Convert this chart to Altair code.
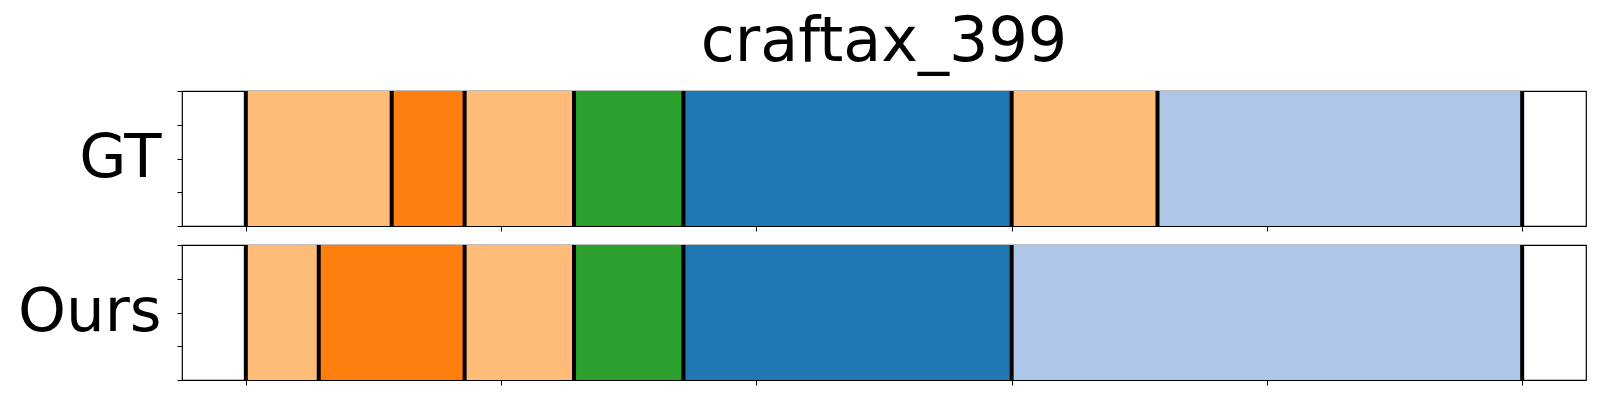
import altair as alt
import numpy as np
import pandas as pd

title_text = "craftax_399"
row_names = ["GT", "Ours"]
class_names = ["A", "B", "C", "D", "E"]
class_colors = ["#ffbb78", "#ff7f0e", "#2ca02c", "#1f77b4", "#aec7e8"]

gt_classes = ["A", "B", "A", "C", "D", "A", "E"]
gt_lengths = [4, 2, 3, 3, 9, 4, 10]
ours_classes = ["A", "B", "A", "C", "D", "E"]
ours_lengths = [2, 4, 3, 3, 9, 14]

x_ticks = [0, 7, 14, 21, 28, 35]
y_ticks = [0, 0.25, 0.5, 0.75, 1]
x_domain = [-1.75, 36.75]

FONT = "DejaVu Sans"
TITLE_FS = 62
LABEL_FS = 61


def panel(name, classes, lengths):
    lengths = np.array(lengths)
    ends = np.cumsum(lengths)
    starts = ends - lengths
    seg = pd.DataFrame({"start": starts, "end": ends, "cls": classes})
    bounds = pd.DataFrame({"b": np.concatenate([[0], ends])})
    x_scale = alt.Scale(domain=x_domain, nice=False, zero=False)
    x_axis = alt.Axis(values=x_ticks, labels=False, tickSize=5, tickColor="black",
                      tickWidth=1, domain=False, grid=False, title=None)
    y_axis = alt.Axis(values=y_ticks, labels=False, tickSize=5, tickColor="black",
                      tickWidth=1, domain=False, grid=False, title=name,
                      titleAngle=0, titleAlign="right", titleBaseline="middle",
                      titleX=-21, titleY=67.5, titleFontSize=LABEL_FS, titleFont=FONT,
                      titleFontWeight="normal", titleColor="black")
    bars = alt.Chart(seg).mark_bar(stroke=None).encode(
        x=alt.X("start:Q", scale=x_scale, axis=x_axis),
        x2="end:Q",
        y=alt.YDatum(0, type="quantitative", scale=alt.Scale(domain=[0, 1], nice=False), axis=y_axis),
        y2=alt.Y2Datum(1),
        color=alt.Color("cls:N", scale=alt.Scale(domain=class_names, range=class_colors), legend=None),
    )
    rules = alt.Chart(bounds).mark_rule(color="black", strokeWidth=4).encode(
        x=alt.X("b:Q", scale=x_scale, axis=x_axis),
    )
    return alt.layer(bars, rules).properties(width=1404, height=135)


chart = alt.vconcat(
    panel(row_names[0], gt_classes, gt_lengths),
    panel(row_names[1], ours_classes, ours_lengths),
    spacing=9,
).properties(
    title=alt.TitleParams(title_text, fontSize=TITLE_FS, font=FONT, fontWeight="normal",
                          anchor="middle", frame="group", color="black", offset=14),
    padding={"left": 8, "top": 3, "right": 5, "bottom": 5},
).configure_view(stroke="black", strokeWidth=1.2)

chart.save("out.html", embed_options={"renderer": "svg", "actions": False})
